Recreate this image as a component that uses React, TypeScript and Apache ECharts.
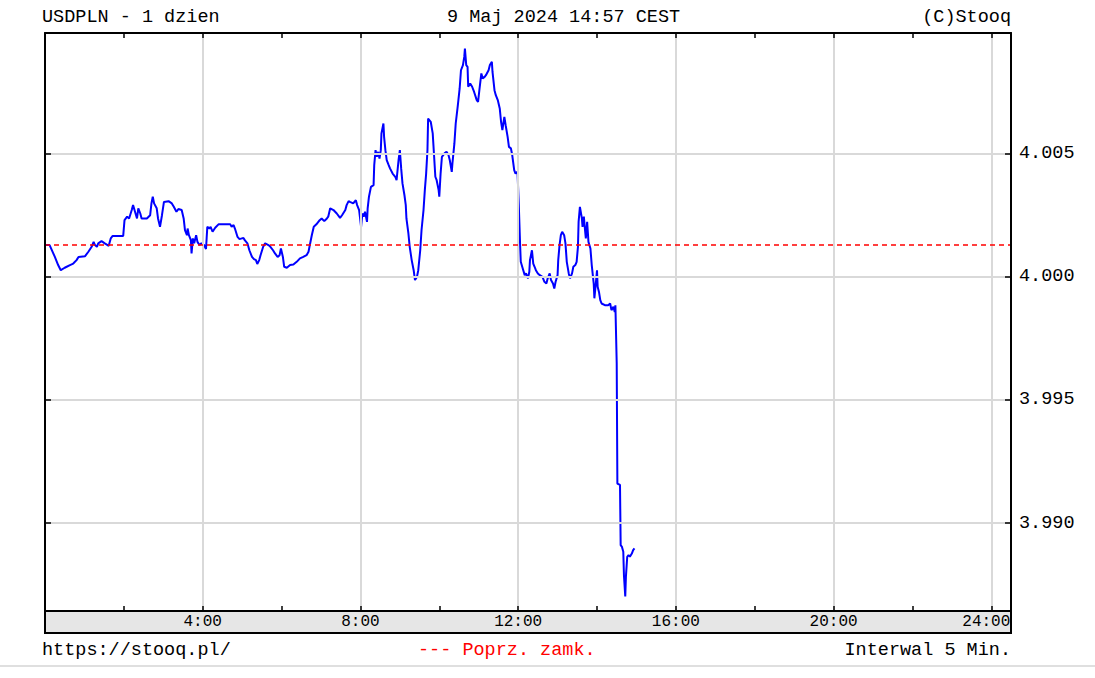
import React, { useEffect, useRef } from "react";
import * as echarts from "echarts";

const times: string[] = [
  "0:00","0:07","0:15","0:20","0:24","0:30","0:38","0:43","0:48","0:51","1:01","1:06","1:11","1:14","1:16","1:19","1:21","1:26","1:31","1:37","1:40","1:43","1:59",
  "2:01","2:05","2:08","2:12","2:14","2:17","2:20","2:22","2:25","2:27","2:35","2:40","2:42","2:44","2:46","2:50","2:52","2:55","2:58",
  "3:01","3:08","3:13","3:16","3:20","3:23","3:28","3:31","3:33","3:36","3:37","3:39","3:42","3:43","3:45","3:47","3:50","3:52","3:55","3:58",
  "4:02","4:05","4:07","4:10","4:12","4:15","4:19","4:24","4:42","4:44","4:47","4:49","4:53","4:56",
  "5:02","5:04","5:08","5:11","5:15","5:18","5:21","5:23","5:26","5:28","5:32","5:35","5:40","5:43","5:47","5:50","5:54","5:57","5:59",
  "6:02","6:04","6:08","6:13","6:18","6:23","6:28","6:33","6:38","6:41","6:43","6:46","6:49","6:53","6:58",
  "7:01","7:05","7:09","7:11","7:14","7:19","7:24","7:29","7:32","7:37","7:39","7:42","7:44","7:49","7:53","7:55","7:58",
  "8:01","8:03","8:05","8:07","8:10","8:11","8:13","8:16","8:20","8:21","8:23","8:25","8:27","8:29","8:31","8:32","8:35","8:36","8:38","8:40","8:43","8:45","8:49","8:53","8:55","8:58",
  "9:00","9:02","9:04","9:07","9:09","9:10","9:13","9:15","9:18","9:21","9:23","9:26","9:28","9:31","9:33","9:36","9:38","9:40","9:42","9:43","9:47","9:50","9:52","9:54","9:56","9:59",
  "10:00","10:02","10:04","10:08","10:11","10:14","10:16","10:19","10:20","10:23","10:25","10:28","10:31","10:33","10:36","10:38","10:39","10:41","10:43","10:44","10:47","10:50","10:53","10:57","10:59",
  "11:01","11:04","11:06","11:09","11:11","11:15","11:17","11:20","11:21","11:24","11:26","11:29","11:32","11:34","11:36","11:39","11:41","11:44","11:46","11:49","11:51","11:54","11:56","11:59",
  "12:01","12:03","12:04","12:07","12:10","12:12","12:15","12:17","12:18","12:21","12:23","12:25","12:27","12:30","12:33","12:37","12:40","12:43","12:45","12:48","12:50","12:53","12:55","12:57",
  "13:00","13:01","13:03","13:05","13:07","13:10","13:12","13:14","13:17","13:19","13:22","13:24","13:27","13:29","13:31","13:32","13:34","13:37","13:38","13:40","13:42","13:43","13:45","13:47","13:50","13:52","13:55","13:56","13:58",
  "14:00","14:01","14:03","14:05","14:07","14:12","14:17","14:20","14:22","14:25","14:27","14:28","14:30","14:31","14:35","14:36","14:38","14:40","14:41","14:43","14:44","14:46","14:48","14:50","14:53","14:55","14:57"
];

const prices: number[] = [
  4.00128,4.00128,4.0008,4.00047,4.00026,4.00036,4.00047,4.00053,4.00067,4.0008,4.00083,4.00101,4.00121,4.00141,4.00128,4.00121,4.00135,4.00144,4.00135,4.00125,4.00155,4.00165,4.00165,
  4.00229,4.00243,4.00236,4.0027,4.0029,4.00263,4.00236,4.00277,4.00256,4.00236,4.00236,4.00249,4.00297,4.00324,4.00297,4.00277,4.00236,4.00202,4.00249,
  4.00303,4.00306,4.00297,4.00283,4.00263,4.00274,4.0027,4.00236,4.00189,4.00168,4.00195,4.00168,4.00148,4.00094,4.00155,4.00135,4.00168,4.00141,4.00128,4.00135,
  4.00128,4.00112,4.00202,4.00195,4.00202,4.00182,4.00198,4.00212,4.00212,4.00202,4.00209,4.00195,4.00161,4.00152,
  4.00157,4.00148,4.00135,4.00107,4.0008,4.00071,4.00067,4.00051,4.00067,4.00087,4.00121,4.00135,4.00128,4.00121,4.00107,4.00094,4.0008,4.00087,4.00114,
  4.0008,4.0004,4.00036,4.00047,4.00049,4.0006,4.00074,4.0008,4.00087,4.00101,4.00128,4.00168,4.00202,4.00212,4.00229,
  4.00236,4.00225,4.00236,4.00243,4.00277,4.0027,4.00256,4.00238,4.00249,4.0027,4.0029,4.00306,4.00303,4.00297,4.0031,4.0029,4.0027,
  4.00202,4.00256,4.00243,4.00263,4.00222,4.00277,4.00324,4.00364,4.00371,4.00452,4.00513,4.00486,4.00506,4.00479,4.00513,4.00581,4.00621,4.00567,4.00513,4.00472,4.00452,4.00439,4.00418,4.00405,4.00391,4.00472,
  4.00513,4.00439,4.00378,4.0033,4.0029,4.00236,4.00175,4.00121,4.00067,4.00026,3.99986,3.99999,4.00026,4.00107,4.00189,4.0027,4.00351,4.00418,4.00513,4.00641,4.00628,4.00581,4.00493,4.00405,4.00391,4.00351,
  4.00324,4.00418,4.00486,4.005,4.00506,4.00493,4.00472,4.00425,4.00459,4.0054,4.00621,4.00689,4.00763,4.00837,4.00858,4.00891,4.00925,4.00858,4.00851,4.0077,4.00783,4.0077,4.00749,4.00716,4.00709,
  4.00756,4.00824,4.00804,4.0081,4.00817,4.00837,4.00858,4.00871,4.0083,4.00756,4.00736,4.00716,4.00682,4.00628,4.00594,4.00648,4.00614,4.00567,4.00526,4.0052,4.00493,4.00432,4.00418,4.00425,
  4.0029,4.00128,4.0006,4.00033,4.00006,4.00013,3.99993,4.0002,4.00067,4.00107,4.00053,4.0004,4.00026,4.00013,4.00006,3.99999,3.99979,3.99972,3.99993,4.00013,3.99986,3.99972,3.99952,3.99979,
  4.00006,4.00067,4.00128,4.00168,4.00182,4.00168,4.00135,4.0006,4.00013,3.99993,4.00013,4.0004,4.00047,4.0006,4.00121,4.00222,4.00283,4.00236,4.00202,4.00243,4.00182,4.00155,4.00222,4.00141,4.00114,4.00047,3.99972,3.99912,3.99966,
  4.00026,3.99959,3.99938,3.99905,3.99891,3.99884,3.99884,3.99891,3.99864,3.99878,3.99857,3.99884,3.99648,3.99161,3.99155,3.98911,3.98904,3.98884,3.98789,3.98703,3.98783,3.98864,3.98871,3.98864,3.98877,3.98891,3.98898
];

const prevClose = 4.00128;
const yMin = 3.98644;
const yMax = 4.00988;
const xMin = 0;
const xMax = 24.5;
const xLabelHours = [4, 8, 12, 16, 20, 24];

const FONT = '"Liberation Mono", "DejaVu Sans Mono", monospace';

const parseTime = (t: string) => {
  const [h, m] = t.split(":").map(Number);
  return h + m / 60;
};

export default function App() {
  const ref = useRef<HTMLDivElement>(null);
  useEffect(() => {
    if (!ref.current) return;
    const chart = echarts.init(ref.current, undefined, { renderer: "svg" });
    const data = times.map((t, i) => [parseTime(t), prices[i]]);
    const tickStyle = { color: "#000", width: 1.5 };
    const axisLine = { show: true, onZero: false, lineStyle: { color: "#000", width: 2 } };
    const textStyle = (text: string, x: number, y: number, align: string, fill = "#000") => ({
      type: "text",
      x,
      y,
      z: 20,
      style: { text, fill, fontFamily: FONT, fontSize: 18.5, align, verticalAlign: "middle" },
    });
    const lastHour = xLabelHours[xLabelHours.length - 1];
    chart.setOption({
      animation: false,
      backgroundColor: "#fff",
      grid: { left: 45, right: 84, top: 33, bottom: 67, show: false },
      xAxis: [
        {
          type: "value",
          position: "bottom",
          min: xMin,
          max: xMax,
          interval: 4,
          z: 5,
          axisLine,
          axisTick: { show: false },
          axisLabel: {
            color: "#000",
            fontFamily: FONT,
            fontSize: 16,
            margin: 3,
            formatter: (v: number) =>
              v === lastHour ? `{last|${v}:00}` : xLabelHours.includes(v) ? `${v}:00` : "",
            rich: {
              last: { color: "#000", fontFamily: FONT, fontSize: 16, padding: [0, 10, 0, 0] },
            },
          },
          splitLine: { show: true, lineStyle: { color: "#d9d9d9", width: 2 } },
        },
        {
          type: "value",
          position: "bottom",
          min: xMin,
          max: xMax,
          interval: 2,
          z: 5,
          axisLine: { show: false, onZero: false },
          axisTick: { show: true, inside: true, length: 5, lineStyle: tickStyle },
          axisLabel: { show: false },
          splitLine: { show: false },
        },
        {
          type: "value",
          position: "top",
          min: xMin,
          max: xMax,
          interval: 2,
          z: 5,
          axisLine,
          axisTick: { show: true, inside: true, length: 5, lineStyle: tickStyle },
          axisLabel: { show: false },
          splitLine: { show: false },
        },
      ],
      yAxis: [
        {
          type: "value",
          position: "right",
          min: yMin,
          max: yMax,
          splitNumber: 5,
          z: 5,
          axisLine,
          axisTick: { show: true, inside: true, length: 6, lineStyle: tickStyle },
          axisLabel: {
            color: "#000",
            fontFamily: FONT,
            fontSize: 18.5,
            margin: 8,
            showMinLabel: false,
            showMaxLabel: false,
            formatter: (v: number) =>
              Math.abs(v * 200 - Math.round(v * 200)) < 1e-6 ? v.toFixed(3) : "",
          },
          splitLine: { show: true, lineStyle: { color: "#d9d9d9", width: 2 } },
        },
        {
          type: "value",
          position: "left",
          min: yMin,
          max: yMax,
          splitNumber: 5,
          z: 5,
          axisLine,
          axisTick: { show: true, inside: true, length: 6, lineStyle: tickStyle },
          axisLabel: { show: false },
          splitLine: { show: false },
        },
      ],
      graphic: {
        elements: [
          {
            type: "rect",
            z: 0,
            shape: { x: 45, y: 611, width: 966, height: 22 },
            style: { fill: "#e6e6e6", stroke: "#000", lineWidth: 2 },
          },
          {
            type: "line",
            z: 0,
            shape: { x1: 0, y1: 666, x2: 1095, y2: 666 },
            style: { stroke: "#d4d4d4", lineWidth: 1.5 },
          },
          textStyle("USDPLN - 1 dzien", 42, 17, "left"),
          textStyle("9 Maj 2024 14:57 CEST", 447, 17, "left"),
          textStyle("(C)Stooq", 1011, 17, "right"),
          textStyle("https://stooq.pl/", 42, 650, "left"),
          textStyle("--- Poprz. zamk.", 418, 650, "left", "#ff0000"),
          textStyle("Interwal 5 Min.", 1011, 650, "right"),
        ],
      },
      series: [
        {
          type: "line",
          xAxisIndex: 0,
          yAxisIndex: 0,
          data,
          showSymbol: false,
          symbol: "none",
          z: 4,
          lineStyle: { color: "#0000ff", width: 2 },
          markLine: {
            silent: true,
            precision: 6,
            symbol: ["none", "none"],
            label: { show: false },
            lineStyle: { color: "#ff0000", type: [5, 4], width: 1.5 },
            data: [{ yAxis: prevClose }],
          },
        },
      ],
    });
    return () => chart.dispose();
  }, []);
  return (
    <div
      ref={ref}
      style={{ position: "absolute", left: 0, top: 0, width: 1095, height: 678, background: "#fff" }}
    />
  );
}
